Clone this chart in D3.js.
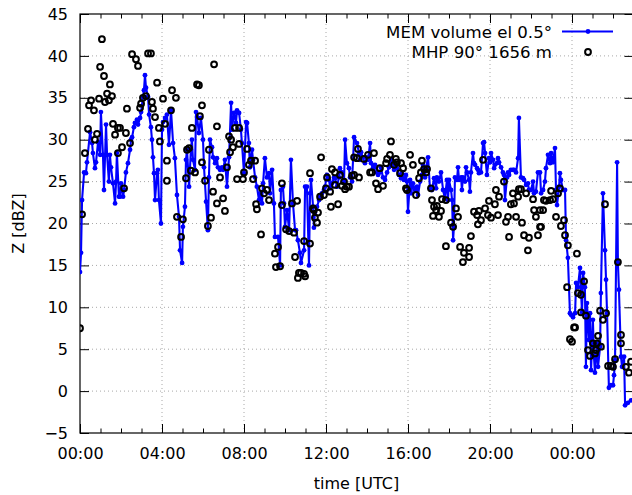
<!DOCTYPE html>
<html>
<head>
<meta charset="utf-8">
<script src="https://cdn.jsdelivr.net/npm/d3@7"></script>
<style>
  html, body { margin: 0; padding: 0; background: #fff; }
  svg { display: block; font-family: "DejaVu Sans", sans-serif; }
</style>
</head>
<body>
<div id="chart"></div>
<script>
// MEM volume el 0.5 deg : [hours since 00:00 UTC, Z dBZ]
const memData = [[0.00,14.2],[0.05,16.5],[0.10,22.8],[0.20,26.1],[0.29,26.0],[0.34,27.3],[0.49,30.9],[0.59,29.6],[0.63,28.4],[0.73,26.6],[0.78,27.3],[0.88,29.7],[0.98,28.2],[1.02,33.3],[1.12,28.2],[1.17,24.0],[1.27,31.8],[1.32,28.2],[1.41,25.0],[1.46,28.2],[1.51,26.7],[1.61,24.8],[1.71,22.4],[1.76,25.0],[1.80,28.4],[1.90,23.2],[1.95,23.2],[2.00,24.8],[2.10,23.2],[2.15,24.0],[2.24,26.1],[2.34,27.2],[2.44,28.8],[2.49,30.0],[2.54,30.3],[2.63,31.5],[2.68,32.0],[2.78,32.4],[2.83,31.8],[2.93,32.6],[2.98,33.3],[3.07,35.1],[3.12,35.9],[3.17,37.7],[3.22,36.2],[3.32,35.1],[3.37,33.0],[3.46,31.5],[3.51,30.0],[3.56,27.9],[3.61,26.0],[3.66,22.8],[3.76,26.0],[3.80,26.4],[3.85,22.8],[3.95,20.0],[4.00,31.2],[4.05,32.1],[4.15,32.6],[4.24,33.0],[4.34,29.4],[4.44,33.5],[4.54,29.6],[4.63,27.8],[4.73,23.4],[4.83,20.8],[4.88,16.8],[4.98,15.3],[5.02,19.6],[5.12,22.0],[5.17,27.6],[5.22,28.8],[5.32,24.4],[5.41,28.8],[5.46,30.0],[5.51,27.6],[5.61,26.4],[5.66,33.3],[5.71,32.7],[5.80,30.8],[5.90,32.6],[6.00,30.0],[6.05,26.7],[6.15,22.6],[6.24,19.2],[6.29,25.5],[6.34,30.0],[6.44,29.1],[6.49,27.9],[6.59,27.2],[6.68,27.8],[6.73,26.7],[6.83,26.4],[6.93,26.7],[6.98,26.4],[7.07,27.6],[7.17,24.4],[7.27,27.9],[7.37,34.4],[7.41,31.2],[7.51,33.2],[7.61,32.0],[7.66,33.5],[7.76,33.2],[7.85,31.2],[7.90,29.6],[8.00,26.0],[8.10,32.1],[8.15,32.0],[8.24,29.6],[8.29,26.7],[8.39,28.8],[8.44,27.6],[8.54,25.5],[8.63,24.4],[8.73,22.8],[8.78,23.6],[8.88,22.4],[8.93,24.8],[9.02,27.8],[9.12,25.5],[9.22,26.0],[9.27,23.6],[9.37,26.4],[9.46,22.4],[9.51,18.4],[9.66,18.4],[9.76,15.0],[9.80,24.0],[9.90,24.4],[9.95,22.4],[10.00,19.6],[10.10,21.6],[10.20,19.2],[10.29,27.6],[10.39,22.4],[10.49,19.2],[10.54,19.2],[10.63,18.0],[10.73,16.5],[10.78,15.3],[10.93,16.8],[10.98,24.4],[11.07,24.4],[11.17,15.0],[11.22,23.6],[11.27,25.2],[11.37,22.0],[11.41,19.5],[11.46,21.3],[11.56,22.0],[11.66,22.8],[11.71,23.2],[11.80,23.6],[11.90,24.0],[11.95,24.4],[12.05,25.8],[12.15,25.2],[12.20,24.2],[12.29,24.8],[12.39,25.5],[12.44,25.4],[12.54,24.4],[12.63,25.5],[12.68,26.6],[12.78,26.1],[12.88,25.0],[12.93,30.0],[13.02,27.2],[13.12,26.6],[13.17,25.5],[13.27,25.0],[13.37,30.3],[13.51,29.6],[13.61,28.4],[13.66,27.6],[13.71,28.5],[13.80,27.9],[13.90,27.2],[14.00,27.9],[14.05,27.6],[14.15,29.6],[14.20,27.2],[14.29,26.6],[14.39,27.0],[14.49,26.1],[14.54,25.8],[14.63,26.1],[14.68,26.7],[14.78,25.5],[14.88,25.2],[14.98,26.1],[15.07,26.7],[15.17,27.2],[15.22,27.6],[15.32,26.4],[15.41,27.0],[15.46,26.6],[15.56,25.8],[15.66,25.4],[15.71,26.0],[15.80,25.2],[15.90,25.8],[15.95,25.0],[16.00,21.4],[16.10,25.2],[16.15,23.6],[16.24,24.8],[16.34,24.0],[16.44,24.4],[16.49,23.4],[16.59,25.0],[16.68,25.8],[16.73,27.0],[16.83,25.5],[16.88,26.6],[16.98,27.9],[17.07,24.2],[17.17,24.0],[17.27,25.4],[17.37,24.2],[17.41,25.5],[17.51,25.0],[17.61,26.1],[17.71,24.0],[17.80,23.0],[17.90,25.2],[17.95,22.8],[18.00,25.2],[18.10,24.0],[18.15,22.8],[18.20,18.0],[18.24,19.6],[18.29,25.5],[18.39,25.2],[18.44,26.7],[18.49,25.2],[18.59,25.5],[18.63,24.0],[18.68,25.5],[18.78,25.0],[18.83,26.7],[18.88,26.1],[18.98,25.2],[19.02,23.8],[19.07,26.1],[19.17,28.4],[19.22,27.2],[19.27,27.0],[19.37,26.6],[19.41,26.4],[19.46,26.0],[19.56,26.1],[19.66,29.6],[19.71,29.7],[19.76,28.4],[19.85,25.8],[19.95,27.8],[20.00,27.3],[20.05,28.4],[20.15,27.6],[20.20,26.6],[20.24,27.0],[20.34,27.2],[20.39,27.8],[20.44,27.3],[20.54,26.7],[20.63,26.1],[20.68,25.8],[20.73,22.8],[20.83,25.5],[20.88,26.1],[20.93,25.8],[21.02,26.4],[21.12,26.4],[21.17,26.4],[21.27,26.1],[21.37,27.8],[21.41,32.6],[21.51,25.5],[21.61,25.4],[21.66,25.2],[21.76,24.6],[21.85,24.8],[21.90,24.0],[22.00,24.0],[22.10,25.0],[22.15,23.6],[22.24,23.8],[22.34,26.1],[22.44,26.1],[22.49,23.6],[22.59,24.0],[22.68,25.0],[22.73,26.6],[22.83,28.2],[22.93,27.2],[22.98,28.4],[23.07,27.3],[23.17,29.0],[23.22,24.0],[23.27,22.2],[23.37,24.4],[23.41,26.0],[23.46,25.2],[23.56,24.0],[23.66,24.0],[23.71,18.0],[23.80,15.9],[23.90,9.3],[23.95,9.1],[24.05,8.8],[24.15,9.3],[24.20,12.9],[24.29,12.4],[24.39,14.7],[24.44,11.8],[24.49,9.4],[24.54,14.1],[24.63,12.4],[24.68,2.9],[24.73,10.5],[24.83,6.1],[24.88,9.3],[24.93,2.5],[25.02,8.5],[25.07,4.1],[25.12,2.2],[25.22,5.7],[25.27,2.9],[25.37,5.3],[25.41,11.7],[25.51,23.6],[25.61,16.8],[25.66,13.3],[25.71,9.3],[25.80,0.4],[25.90,0.7],[26.00,0.7],[26.05,1.9],[26.10,3.7],[26.20,27.3],[26.24,15.3],[26.29,12.1],[26.39,4.1],[26.44,2.9],[26.54,4.1],[26.59,-1.7],[26.73,-1.4],[26.88,-1.1]]

// MHP 90 deg 1656 m : [hours since 00:00 UTC, Z dBZ]
const mhpData = [[0.00,7.5],[0.10,21.1],[0.24,28.4],[0.39,31.3],[0.44,34.1],[0.54,34.7],[0.68,33.5],[0.73,30.0],[0.83,30.7],[0.93,34.9],[0.98,38.7],[1.07,42.0],[1.17,37.6],[1.22,34.5],[1.32,35.5],[1.41,34.7],[1.46,36.6],[1.56,35.2],[1.61,31.9],[1.71,30.6],[1.85,31.4],[1.85,28.4],[1.95,31.4],[2.05,29.1],[2.15,24.2],[2.24,30.8],[2.29,33.7],[2.44,29.6],[2.54,40.2],[2.73,39.6],[2.83,38.8],[2.93,33.8],[2.98,34.3],[3.07,35.0],[3.22,35.2],[3.32,40.3],[3.46,40.3],[3.51,34.5],[3.56,33.7],[3.66,32.7],[3.76,36.8],[3.85,31.4],[3.90,29.8],[4.05,34.9],[4.15,31.9],[4.24,27.5],[4.24,25.1],[4.44,33.5],[4.49,35.9],[4.68,35.0],[4.73,20.8],[4.93,18.4],[5.02,20.5],[5.17,25.4],[5.22,28.8],[5.32,29.0],[5.41,26.3],[5.46,31.4],[5.61,26.1],[5.71,36.6],[5.80,36.5],[5.85,32.8],[5.95,34.1],[5.95,27.3],[6.10,25.1],[6.24,19.7],[6.29,28.8],[6.39,20.7],[6.49,23.8],[6.54,39.0],[6.68,31.6],[6.68,22.4],[6.83,25.5],[6.98,23.0],[7.07,21.5],[7.17,26.7],[7.27,30.4],[7.32,28.5],[7.37,30.0],[7.46,29.1],[7.56,31.4],[7.66,25.3],[7.76,31.4],[7.76,29.5],[7.95,25.3],[8.00,26.1],[8.15,28.9],[8.24,27.0],[8.34,27.5],[8.44,25.3],[8.54,27.5],[8.59,22.3],[8.63,21.7],[8.83,18.7],[8.88,24.2],[8.98,23.6],[9.12,24.0],[9.22,22.8],[9.51,16.4],[9.56,14.8],[9.66,17.2],[9.76,14.9],[9.85,24.8],[9.85,22.2],[10.05,19.3],[10.20,19.1],[10.34,22.4],[10.44,18.9],[10.49,16.0],[10.59,22.7],[10.63,13.5],[10.68,14.1],[10.78,14.1],[10.93,14.0],[10.98,13.7],[10.93,17.9],[11.22,17.6],[11.22,26.0],[11.37,21.8],[11.41,21.6],[11.46,20.7],[11.56,20.1],[11.61,21.3],[11.71,23.2],[11.76,27.9],[11.90,23.4],[12.00,24.2],[12.05,25.5],[12.20,23.8],[12.24,22.0],[12.29,26.5],[12.44,26.1],[12.44,24.6],[12.59,22.3],[12.68,25.8],[12.78,24.5],[12.88,25.0],[12.93,24.1],[13.02,24.4],[13.12,24.4],[13.27,25.7],[13.37,27.9],[13.37,25.8],[13.51,27.8],[13.56,28.9],[13.61,25.5],[13.85,27.7],[14.05,28.2],[14.15,26.1],[14.24,26.1],[14.34,28.4],[14.44,24.8],[14.54,24.1],[14.63,26.6],[14.78,24.5],[14.93,27.2],[14.98,27.7],[15.12,28.2],[15.17,29.8],[15.32,27.0],[15.41,27.7],[15.46,27.3],[15.61,26.0],[15.66,27.2],[15.76,26.6],[15.90,24.2],[15.95,24.0],[16.10,28.2],[16.24,27.0],[16.39,23.4],[16.54,25.4],[16.63,26.1],[16.68,27.5],[16.78,26.5],[16.88,26.1],[16.93,26.5],[17.12,24.2],[17.17,22.8],[17.22,20.9],[17.27,22.0],[17.37,21.6],[17.41,22.1],[17.51,20.8],[17.61,21.5],[17.66,22.9],[17.85,22.8],[17.85,17.3],[18.10,20.1],[18.20,19.6],[18.34,21.8],[18.44,20.8],[18.54,17.2],[18.68,15.4],[18.73,16.5],[18.98,17.1],[18.98,16.0],[19.07,18.5],[19.22,21.4],[19.37,21.0],[19.41,19.9],[19.46,21.5],[19.56,20.4],[19.66,27.6],[19.76,21.8],[19.90,21.0],[19.95,22.7],[20.05,20.7],[20.24,22.3],[20.29,24.0],[20.39,21.0],[20.44,23.2],[20.68,25.0],[20.78,20.2],[20.88,20.8],[20.93,18.4],[21.02,22.3],[21.12,23.6],[21.17,22.4],[21.27,20.8],[21.37,23.2],[21.41,24.1],[21.51,24.1],[21.56,20.1],[21.66,18.6],[21.76,23.6],[21.85,16.8],[21.90,18.3],[22.10,22.9],[22.15,21.6],[22.24,20.8],[22.34,18.6],[22.44,21.6],[22.44,19.6],[22.49,19.6],[22.59,21.6],[22.63,22.8],[22.73,22.7],[22.93,22.8],[22.98,23.9],[23.07,22.9],[23.22,20.8],[23.32,23.6],[23.41,24.2],[23.46,19.7],[23.61,20.4],[23.66,18.6],[23.76,12.4],[23.80,17.4],[23.90,6.2],[24.00,5.9],[24.10,7.6],[24.15,7.6],[24.24,16.4],[24.29,11.7],[24.44,11.5],[24.44,9.4],[24.59,13.1],[24.68,9.0],[24.78,4.9],[24.88,4.2],[25.02,5.7],[25.12,4.5],[25.17,4.9],[25.22,5.7],[25.27,6.6],[25.37,9.6],[25.41,5.3],[25.51,8.5],[25.61,22.3],[25.66,9.3],[25.76,3.0],[25.90,3.0],[26.00,2.9],[26.10,3.8],[26.24,15.4],[26.39,6.7],[26.39,5.7],[26.63,2.9],[26.78,2.2],[26.88,3.5]]

const xMajorTicks = [0, 4, 8, 12, 16, 20, 24]
const xTickLabels = ["00:00", "04:00", "08:00", "12:00", "16:00", "20:00", "00:00"]
const yTicks = [-5, 0, 5, 10, 15, 20, 25, 30, 35, 40, 45]
const seriesNames = ["MEM volume el 0.5°", "MHP 90° 1656 m"]

const W = 632, H = 495
const margin = {top: 14, right: -1.5, bottom: 62, left: 80}
const x0 = margin.left, x1 = W - margin.right
const y0 = H - margin.bottom, y1 = margin.top

const x = d3.scaleLinear().domain([0, 27]).range([x0, x1])
const y = d3.scaleLinear().domain([-5, 45]).range([y0, y1])

const svg = d3.select("#chart").append("svg")
    .attr("width", W).attr("height", H)

svg.append("defs").append("clipPath").attr("id", "clip")
    .append("rect").attr("x", x0).attr("y", y1).attr("width", x1 - x0).attr("height", y0 - y1)

// grid
const grid = svg.append("g").attr("stroke", "#a8a8a8").attr("stroke-width", 1).attr("stroke-dasharray", "1,3")
grid.selectAll(".gx").data(xMajorTicks.slice(1)).enter().append("line")
    .attr("x1", d => x(d)).attr("x2", d => x(d)).attr("y1", y0).attr("y2", y1)
grid.selectAll(".gy").data(yTicks.slice(1, -1)).enter().append("line")
    .attr("x1", x0).attr("x2", x1).attr("y1", d => y(d)).attr("y2", d => y(d))

// axes, ticks pointing inward like gnuplot
const fmt = (d, i) => xTickLabels[i]
const minorX = d3.range(0, 28, 1).filter(h => h % 4 !== 0)

const styleAxis = g => {
    g.select(".domain").remove()
    g.selectAll("line").attr("stroke", "#000")
    g.selectAll("text").attr("font-family", "DejaVu Sans, sans-serif").attr("font-size", 16).attr("fill", "#000")
}

svg.append("g").attr("transform", `translate(0,${y0})`)
    .call(d3.axisBottom(x).tickValues(xMajorTicks).tickFormat(fmt).tickSize(-9).tickPadding(14.6))
    .call(styleAxis)
svg.append("g").attr("transform", `translate(0,${y0})`)
    .call(d3.axisBottom(x).tickValues(minorX).tickFormat("").tickSize(-4.5))
    .call(styleAxis)
svg.append("g").attr("transform", `translate(0,${y1})`)
    .call(d3.axisTop(x).tickValues(xMajorTicks).tickFormat("").tickSize(-9))
    .call(styleAxis)
svg.append("g").attr("transform", `translate(0,${y1})`)
    .call(d3.axisTop(x).tickValues(minorX).tickFormat("").tickSize(-4.5))
    .call(styleAxis)
svg.append("g").attr("transform", `translate(${x0},0)`)
    .call(d3.axisLeft(y).tickValues(yTicks).tickFormat(d3.format("d")).tickSize(-9).tickPadding(12))
    .call(styleAxis)
svg.append("g").attr("transform", `translate(${x1},0)`)
    .call(d3.axisRight(y).tickValues(yTicks).tickFormat("").tickSize(-9))
    .call(styleAxis)

// border
svg.append("rect").attr("x", x0).attr("y", y1).attr("width", x1 - x0).attr("height", y0 - y1)
    .attr("fill", "none").attr("stroke", "#000").attr("stroke-width", 1.2)

// data
const plot = svg.append("g").attr("clip-path", "url(#clip)")
const line = d3.line().x(d => x(d[0])).y(d => y(d[1]))

plot.append("path").datum(memData)
    .attr("d", line).attr("fill", "none").attr("stroke", "#0000ff").attr("stroke-width", 2.1)
    .attr("stroke-linejoin", "round")
plot.append("g").selectAll("circle").data(memData).enter().append("circle")
    .attr("cx", d => x(d[0])).attr("cy", d => y(d[1])).attr("r", 2.4).attr("fill", "#0000ff")

plot.append("g").selectAll("circle").data(mhpData).enter().append("circle")
    .attr("cx", d => x(d[0])).attr("cy", d => y(d[1])).attr("r", 2.9)
    .attr("fill", "none").attr("stroke", "#000").attr("stroke-width", 2)

// legend
const legend = svg.append("g").attr("font-size", 16.6).attr("fill", "#000")
legend.append("text").attr("x", 552).attr("y", 37.5).attr("text-anchor", "end").text(seriesNames[0])
legend.append("text").attr("x", 552).attr("y", 58).attr("text-anchor", "end").text(seriesNames[1])
legend.append("line").attr("x1", 562).attr("x2", 613).attr("y1", 31.5).attr("y2", 31.5)
    .attr("stroke", "#0000ff").attr("stroke-width", 2.1)
legend.append("circle").attr("cx", 588).attr("cy", 31.5).attr("r", 2.4).attr("fill", "#0000ff")
legend.append("circle").attr("cx", 588).attr("cy", 52).attr("r", 2.9)
    .attr("fill", "none").attr("stroke", "#000").attr("stroke-width", 2)

// axis titles
svg.append("text").attr("x", (x0 + 633) / 2).attr("y", 489).attr("text-anchor", "middle")
    .attr("font-size", 16).text("time [UTC]")
svg.append("text").attr("transform", `translate(24,${(y0 + y1) / 2}) rotate(-90)`)
    .attr("text-anchor", "middle").attr("font-size", 16).text("Z [dBZ]")
</script>
</body>
</html>
